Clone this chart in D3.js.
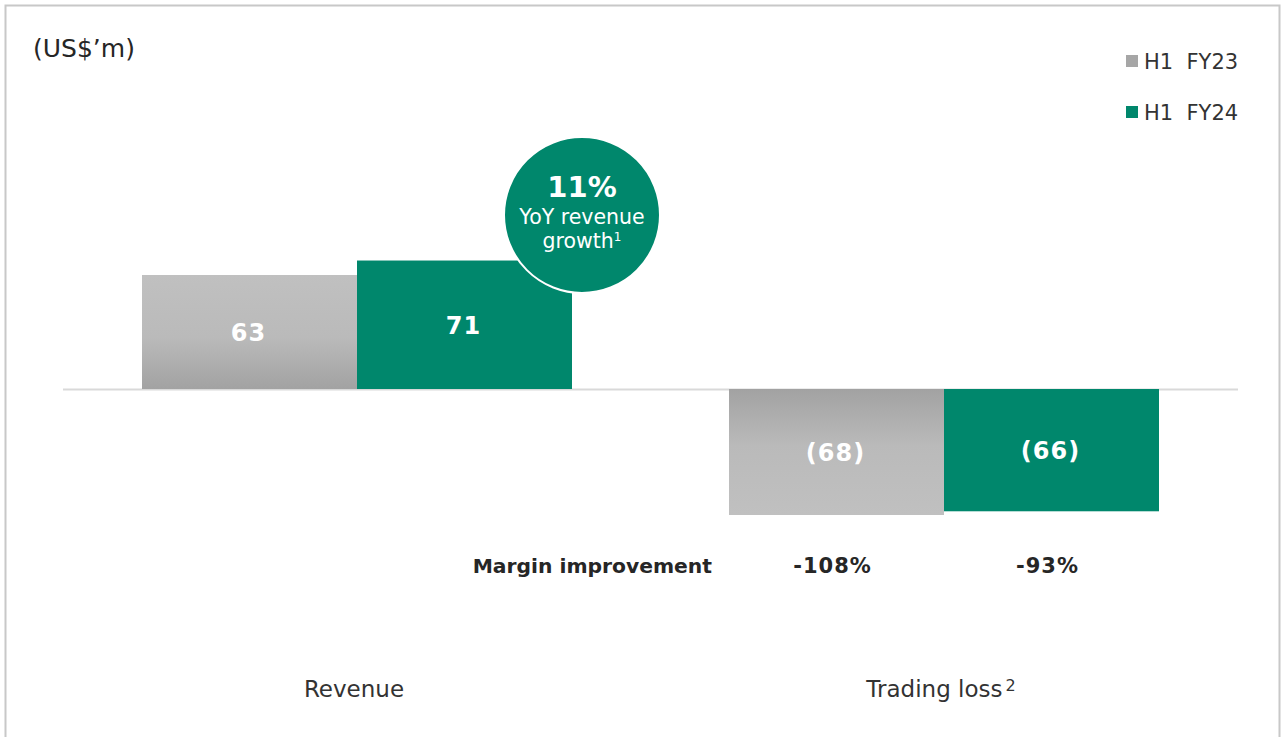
<!DOCTYPE html>
<html>
<head>
<meta charset="utf-8">
<script src="https://cdn.jsdelivr.net/npm/d3@7"></script>
<style>
  body { margin: 0; background: #fff; }
  text { font-family: 'DejaVu Sans', Verdana, sans-serif; }
</style>
</head>
<body>
<div id="chart"></div>
<script>
var categories = ['Revenue', 'Trading loss'];
var categoryNotes = ['', '2'];
var seriesNames = ['H1  FY23', 'H1  FY24'];
var fy23 = [63, -68];
var fy24 = [71, -66];
var barLabels = [['63', '(68)'], ['71', '(66)']];
var marginLabels = ['-108%', '-93%'];
var growthLabel = ['11%', 'YoY revenue', 'growth'];

var W = 1283, H = 737;
var svg = d3.select('#chart').append('svg')
    .attr('width', W)
    .attr('height', H);

var green = '#00876c';

var defs = svg.append('defs');
var gUp = defs.append('linearGradient').attr('id', 'greyUp')
    .attr('x1', 0).attr('y1', 0).attr('x2', 0).attr('y2', 1);
gUp.append('stop').attr('offset', '0%').attr('stop-color', '#c0c0c0');
gUp.append('stop').attr('offset', '55%').attr('stop-color', '#bababa');
gUp.append('stop').attr('offset', '100%').attr('stop-color', '#a2a2a2');
var gDown = defs.append('linearGradient').attr('id', 'greyDown')
    .attr('x1', 0).attr('y1', 0).attr('x2', 0).attr('y2', 1);
gDown.append('stop').attr('offset', '0%').attr('stop-color', '#a2a2a2');
gDown.append('stop').attr('offset', '45%').attr('stop-color', '#bababa');
gDown.append('stop').attr('offset', '100%').attr('stop-color', '#c0c0c0');

// frame
svg.append('path')
    .attr('d', 'M5.5,' + H + 'V5.5H1279.5V' + H)
    .attr('fill', 'none')
    .attr('stroke', '#c8c8c8')
    .attr('stroke-width', 2);

var y = d3.scaleLinear().domain([0, 63]).range([389, 275]);
var yNeg = d3.scaleLinear().domain([0, -68]).range([389, 515]);
function yy(v) { return v >= 0 ? y(v) : yNeg(v); }

var groupX = d3.scalePoint().domain(categories).range([357, 944]);
var x1 = d3.scaleBand().domain(seriesNames).range([-215, 215]);

// baseline
svg.append('line')
    .attr('x1', 63).attr('x2', 1238)
    .attr('y1', y(0) + 0.5).attr('y2', y(0) + 0.5)
    .attr('stroke', '#d9d9d9').attr('stroke-width', 2);

var rows = [];
categories.forEach(function(c, i) {
  rows.push({cat: c, s: 0, v: fy23[i], label: barLabels[0][i]});
  rows.push({cat: c, s: 1, v: fy24[i], label: barLabels[1][i]});
});

svg.selectAll('rect.bar').data(rows).enter().append('rect')
    .attr('class', 'bar')
    .attr('x', function(d) { return groupX(d.cat) + x1(seriesNames[d.s]); })
    .attr('width', x1.bandwidth())
    .attr('y', function(d) { return Math.min(yy(d.v), y(0)); })
    .attr('height', function(d) { return Math.abs(yy(d.v) - y(0)); })
    .attr('fill', function(d) {
      if (d.s === 1) return green;
      return d.v >= 0 ? 'url(#greyUp)' : 'url(#greyDown)';
    });

svg.selectAll('text.val').data(rows).enter().append('text')
    .attr('class', 'val')
    .attr('x', function(d) { return groupX(d.cat) + x1(seriesNames[d.s]) + x1.bandwidth() / 2 - 1; })
    .attr('y', function(d) { return (yy(d.v) + y(0)) / 2 + 9; })
    .attr('text-anchor', 'middle')
    .attr('font-size', 24)
    .attr('font-weight', 'bold')
    .attr('letter-spacing', 1)
    .attr('fill', '#fff')
    .text(function(d) { return d.label; });

// growth bubble
var cx = groupX('Revenue') + x1.bandwidth() + 10, cy = 215;
svg.append('circle')
    .attr('cx', cx).attr('cy', cy).attr('r', 78)
    .attr('fill', green)
    .attr('stroke', '#fff').attr('stroke-width', 2);
svg.append('text').attr('x', cx).attr('y', cy - 18)
    .attr('text-anchor', 'middle').attr('fill', '#fff')
    .attr('font-size', 29).attr('font-weight', 'bold')
    .text(growthLabel[0]);
svg.append('text').attr('x', cx).attr('y', cy + 9)
    .attr('text-anchor', 'middle').attr('fill', '#fff')
    .attr('font-size', 20.5)
    .text(growthLabel[1]);
var gt = svg.append('text').attr('x', cx).attr('y', cy + 33)
    .attr('text-anchor', 'middle').attr('fill', '#fff')
    .attr('font-size', 20.5);
gt.append('tspan').text(growthLabel[2]);
gt.append('tspan').attr('font-size', 12).attr('dy', -7).text('1');

// margin row
svg.append('text').attr('x', 712).attr('y', 573)
    .attr('text-anchor', 'end').attr('fill', '#262626')
    .attr('font-size', 20.3).attr('font-weight', 'bold')
    .text('Margin improvement');
svg.selectAll('text.margin').data(marginLabels).enter().append('text')
    .attr('class', 'margin')
    .attr('x', function(d, i) { return groupX('Trading loss') + x1(seriesNames[i]) + x1.bandwidth() / 2 - 4; })
    .attr('y', 573)
    .attr('text-anchor', 'middle').attr('fill', '#262626')
    .attr('font-size', 21).attr('font-weight', 'bold')
    .attr('letter-spacing', 1)
    .text(function(d) { return d; });

// category labels
var cl = svg.selectAll('text.cat').data(categories).enter().append('text')
    .attr('class', 'cat')
    .attr('x', function(d) { return groupX(d) - 3; })
    .attr('y', 697)
    .attr('text-anchor', 'middle')
    .attr('fill', '#333')
    .attr('font-size', 23);
cl.append('tspan').text(function(d) { return d; });
cl.append('tspan').attr('font-size', 16).attr('dy', -6).attr('dx', 3)
    .text(function(d, i) { return categoryNotes[i]; });

// unit label
svg.append('text').attr('x', 33).attr('y', 57)
    .attr('fill', '#262626').attr('font-size', 25)
    .text('(US$\u2019m)');

// legend
var legend = svg.selectAll('g.leg').data(seriesNames).enter().append('g')
    .attr('class', 'leg')
    .attr('transform', function(d, i) { return 'translate(1126,' + (55 + i * 51) + ')'; });
legend.append('rect').attr('width', 12).attr('height', 12)
    .attr('fill', function(d, i) { return i === 0 ? '#a6a6a6' : green; });
legend.append('text').attr('x', 18).attr('y', 14)
    .attr('fill', '#333').attr('font-size', 21)
    .style('white-space', 'pre')
    .text(function(d) { return d; });
</script>
</body>
</html>
